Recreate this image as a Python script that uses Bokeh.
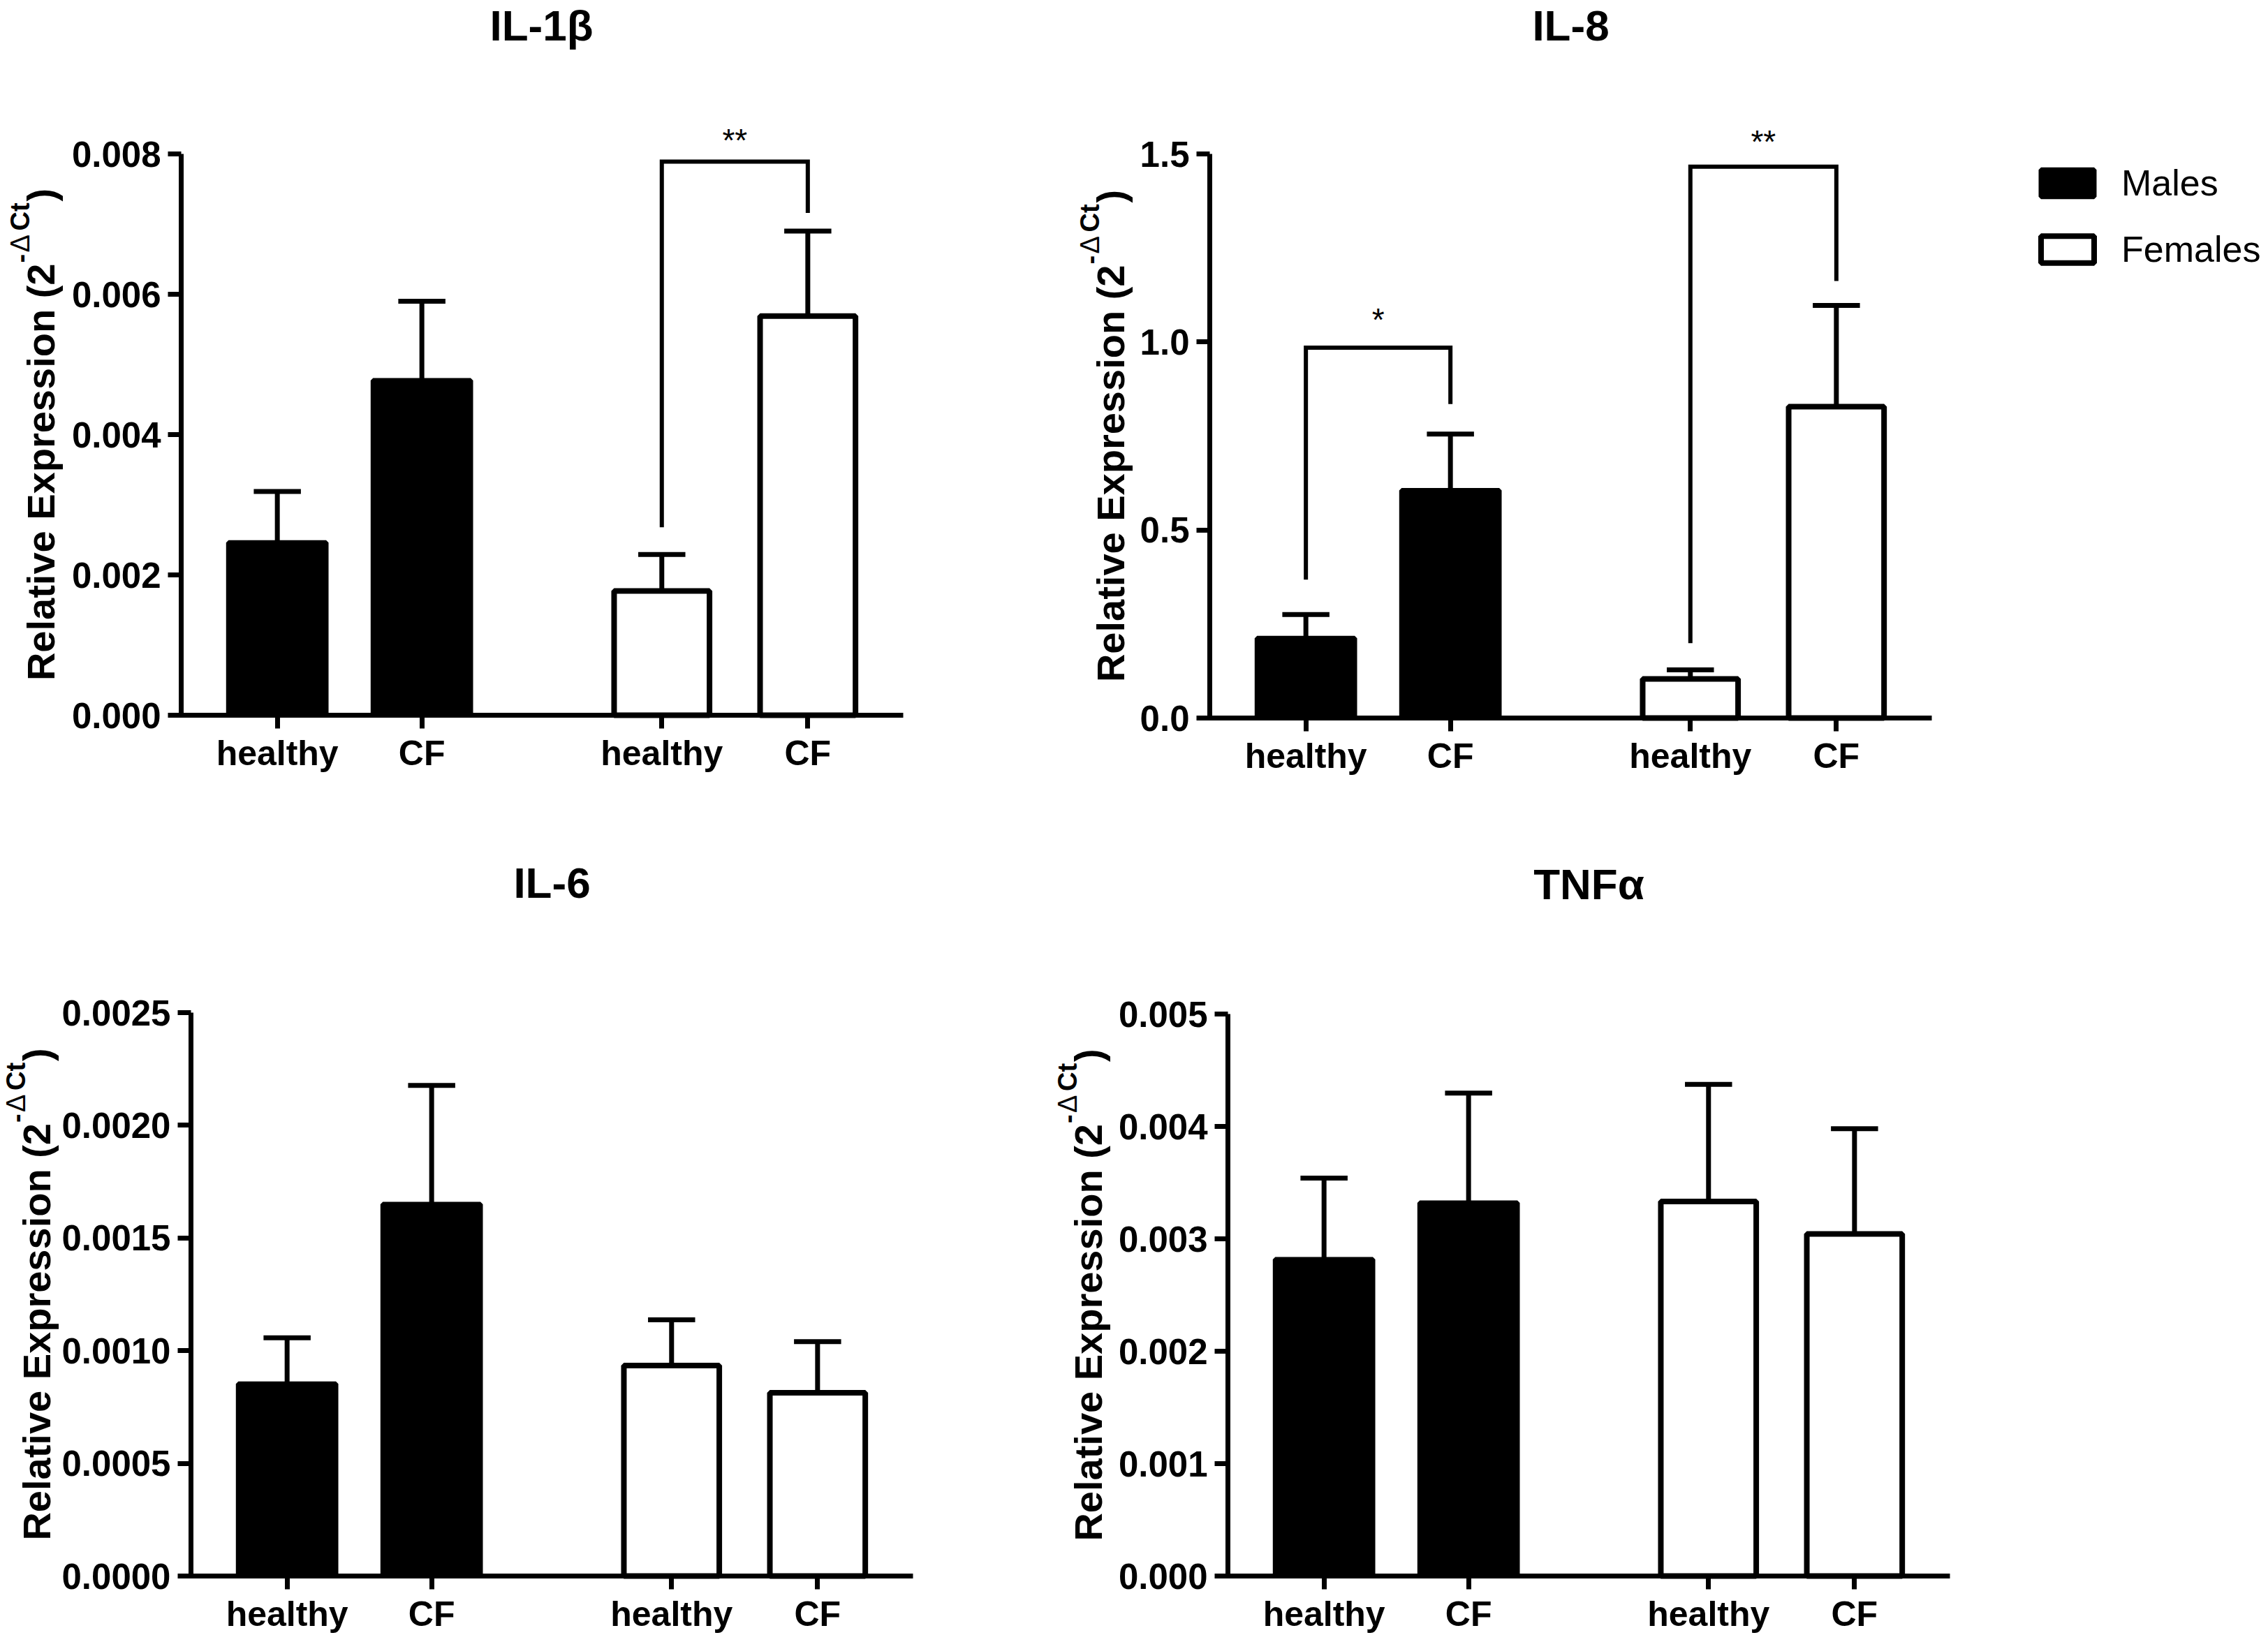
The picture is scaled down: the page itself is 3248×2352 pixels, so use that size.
import math
from bokeh.plotting import figure
from bokeh.models import Label, Legend, LegendItem, FixedTicker, Range1d, ColumnDataSource
from bokeh.layouts import column, row
from bokeh.embed import file_html
from bokeh.resources import INLINE

FONT = "Liberation Sans"

# ---------------- data ----------------
categories = ["healthy", "CF", "healthy", "CF"]
groups = ["Males", "Males", "Females", "Females"]
bar_x = [1.0, 2.0, 3.66, 4.67]

il1b_mean = [0.00246, 0.00477, 0.00177, 0.00569]
il1b_err_top = [0.00319, 0.00590, 0.00229, 0.00690]
il8_mean = [0.212, 0.605, 0.104, 0.828]
il8_err_top = [0.275, 0.755, 0.128, 1.097]
il6_mean = [0.000853, 0.00165, 0.000934, 0.000813]
il6_err_top = [0.001057, 0.002177, 0.001137, 0.001040]
tnfa_mean = [0.002816, 0.00332, 0.003333, 0.003043]
tnfa_err_top = [0.003540, 0.004296, 0.004375, 0.003980]

il1b_ticks = [0.0, 0.002, 0.004, 0.006, 0.008]
il1b_tick_labels = ["0.000", "0.002", "0.004", "0.006", "0.008"]
il8_ticks = [0.0, 0.5, 1.0, 1.5]
il8_tick_labels = ["0.0", "0.5", "1.0", "1.5"]
il6_ticks = [0.0, 0.0005, 0.001, 0.0015, 0.002, 0.0025]
il6_tick_labels = ["0.0000", "0.0005", "0.0010", "0.0015", "0.0020", "0.0025"]
tnfa_ticks = [0.0, 0.001, 0.002, 0.003, 0.004, 0.005]
tnfa_tick_labels = ["0.000", "0.001", "0.002", "0.003", "0.004", "0.005"]

# significance: (left bar, right bar, left foot, bracket top, right foot, star level, text)
il1b_sig = [(2, 3, 0.00268, 0.00789, 0.00716, 0.00830, "**")]
il8_sig = [(0, 1, 0.368, 0.985, 0.835, 1.078, "*"),
           (2, 3, 0.199, 1.466, 1.162, 1.552, "**")]
il6_sig = []
tnfa_sig = []

ylabel_main = "Relative Expression (2"
ylabel_sup = ["-", "\u0394", "Ct"]
ylabel_end = ")"
legend_labels = ["Males", "Females"]

# ---------------- layout helpers ----------------
AW = {"R": .722, "e": .556, "l": .278, "a": .556, "t": .333, "i": .278, "v": .556,
      " ": .278, "E": .667, "x": .556, "p": .611, "r": .389, "s": .556, "o": .611,
      "n": .611, "(": .333, "2": .556, ")": .333, "-": .333, "\u0394": .65, "C": .722}
MID = 0.35          # baseline sits this many em below a 'middle'-anchored label
K = 207.0           # px per category unit
X0, X1 = 0.335, 5.33


def tw(s, size):
    return sum(AW.get(c, .556) for c in s) * size


def build(title, means, err_tops, yticks, ytick_labels, sig, spec, legend=False):
    W, H = spec["W"], spec["H"]
    ox, oy = spec["ox"], spec["oy"]
    L, T, B = spec["L"], spec["T"], spec["B"]
    ymax = yticks[-1]
    u = ymax / (B - T)

    def xd(px):
        return X0 + (px - L) / K

    def yd(py):
        return (B - py) * u

    p = figure(width=W, height=H, output_backend="svg", toolbar_location=None, title=None,
               x_range=Range1d(xd(ox), xd(ox + W)), y_range=Range1d(yd(oy + H), yd(oy)),
               min_border=0, min_border_left=0, min_border_right=0,
               min_border_top=0, min_border_bottom=0)
    p.xgrid.visible = False
    p.ygrid.visible = False
    p.outline_line_color = None
    p.background_fill_color = "white"
    p.border_fill_color = "white"

    for ax in (p.xaxis[0], p.yaxis[0]):
        ax.axis_line_width = 7
        ax.axis_line_color = "black"
        ax.major_tick_line_width = 7
        ax.major_tick_line_color = "black"
        ax.major_tick_out = 19
        ax.major_tick_in = 0
        ax.minor_tick_line_color = None
        ax.major_label_text_font = FONT
        ax.major_label_text_font_style = "bold"
        ax.major_label_text_color = "black"
    ya, xa_ = p.yaxis[0], p.xaxis[0]
    ya.fixed_location = X0
    ya.bounds = (0, ymax)
    ya.ticker = FixedTicker(ticks=yticks)
    ya.major_label_overrides = {t: l for t, l in zip(yticks, ytick_labels)}
    ya.major_label_text_font_size = "51px"
    ya.major_label_standoff = 10
    xa_.fixed_location = 0
    xa_.bounds = (X0 - 3.5 / K, X1)
    xa_.ticker = FixedTicker(ticks=bar_x)
    xa_.major_label_overrides = {t: c for t, c in zip(bar_x, categories)}
    xa_.major_label_text_font_size = "50px"
    xa_.major_label_standoff = 7

    males = ColumnDataSource(dict(x=[bar_x[i] for i in range(4) if groups[i] == "Males"],
                                  top=[means[i] for i in range(4) if groups[i] == "Males"]))
    females = ColumnDataSource(dict(x=[bar_x[i] for i in range(4) if groups[i] == "Females"],
                                    top=[means[i] for i in range(4) if groups[i] == "Females"]))
    rm = p.vbar(x="x", top="top", bottom=0, width=0.675, source=males,
                fill_color="black", line_color="black", line_width=7)
    rf = p.vbar(x="x", top="top", bottom=0, width=0.66, source=females,
                fill_color="white", line_color="black", line_width=8)

    # error bars (upper only)
    p.segment(x0=bar_x, y0=means, x1=bar_x, y1=err_tops, line_color="black", line_width=7)
    p.segment(x0=[x - 0.163 for x in bar_x], y0=err_tops, x1=[x + 0.163 for x in bar_x],
              y1=err_tops, line_color="black", line_width=7)

    # significance brackets
    for (a, b, fl, top, fr, star_y, txt) in sig:
        xa, xb = bar_x[a], bar_x[b]
        p.line(x=[xa, xa, xb, xb], y=[fl, top, top, fr], line_color="black",
               line_width=6, line_join="miter")
        fs = 46
        anchor_py = B - star_y / u + (0.58 - MID) * fs
        p.add_layout(Label(x=(xa + xb) / 2, y=yd(anchor_py), text=txt, text_align="center",
                           text_baseline="middle", text_font=FONT,
                           text_font_size=f"{fs}px", text_color="black"))

    # title
    tfs = 62
    p.add_layout(Label(x=xd(spec["title_x"]), y=yd(spec["title_y"] - MID * tfs), text=title,
                       text_align="center", text_baseline="middle", text_font=FONT,
                       text_font_size=f"{tfs}px", text_font_style="bold", text_color="black"))

    # rotated y-axis label with superscript
    ms, ss = 56, 38
    sup_off = [1, 16, 47]     # px along the text, from the end of the main part
    end_off = 89
    wm = tw(ylabel_main, ms)
    wend = tw(ylabel_end, ms)
    total = wm + end_off + wend
    start = (T + B) / 2 + total / 2
    A = start - wm
    bx = spec["ylab_x"]
    raise_px = 36
    p.add_layout(Label(x=xd(bx - MID * ms), y=yd(start), text=ylabel_main, angle=math.pi / 2,
                       text_align="left", text_baseline="middle", text_font=FONT,
                       text_font_size=f"{ms}px", text_font_style="bold", text_color="black"))
    for s, off in zip(ylabel_sup, sup_off):
        p.add_layout(Label(x=xd(bx - raise_px - MID * ss), y=yd(A - off), text=s,
                           angle=math.pi / 2, text_align="left", text_baseline="middle",
                           text_font=FONT, text_font_size=f"{ss}px",
                           text_font_style="normal" if s == "\u0394" else "bold",
                           text_color="black"))
    p.add_layout(Label(x=xd(bx - MID * ms), y=yd(A - end_off), text=ylabel_end,
                       angle=math.pi / 2, text_align="left", text_baseline="middle",
                       text_font=FONT, text_font_size=f"{ms}px", text_font_style="bold",
                       text_color="black"))

    if legend:
        lg = Legend(items=[LegendItem(label=legend_labels[0], renderers=[rm]),
                           LegendItem(label=legend_labels[1], renderers=[rf])],
                    location=(spec["leg_x"] - ox, (oy + H) - spec["leg_y"]),
                    glyph_width=95, glyph_height=48, label_standoff=30, spacing=35,
                    padding=0, margin=0, border_line_color=None,
                    background_fill_alpha=0, label_text_font=FONT,
                    label_text_font_size="52px", label_text_color="black")
        p.add_layout(lg)
    return p


# geometry in page pixels
spec1 = dict(W=1480, H=1176, ox=0, oy=0, L=259, T=220, B=1024,
             ylab_x=78, title_x=775, title_y=58)
spec2 = dict(W=1768, H=1176, ox=1480, oy=0, L=1732, T=220, B=1028,
             ylab_x=1610, title_x=2249, title_y=58, leg_x=2913, leg_y=387)
spec3 = dict(W=1480, H=1176, ox=0, oy=1176, L=273, T=1450, B=2257,
             ylab_x=72, title_x=790, title_y=1286)
spec4 = dict(W=1768, H=1176, ox=1480, oy=1176, L=1758, T=1452, B=2257,
             ylab_x=1578, title_x=2275, title_y=1288)

p1 = build("IL-1\u03b2", il1b_mean, il1b_err_top, il1b_ticks, il1b_tick_labels, il1b_sig, spec1)
p2 = build("IL-8", il8_mean, il8_err_top, il8_ticks, il8_tick_labels, il8_sig, spec2, legend=True)
p3 = build("IL-6", il6_mean, il6_err_top, il6_ticks, il6_tick_labels, il6_sig, spec3)
p4 = build("TNF\u03b1", tnfa_mean, tnfa_err_top, tnfa_ticks, tnfa_tick_labels, tnfa_sig, spec4)

layout = column(row(p1, p2), row(p3, p4))
open("out.html", "w").write(file_html(layout, INLINE))
